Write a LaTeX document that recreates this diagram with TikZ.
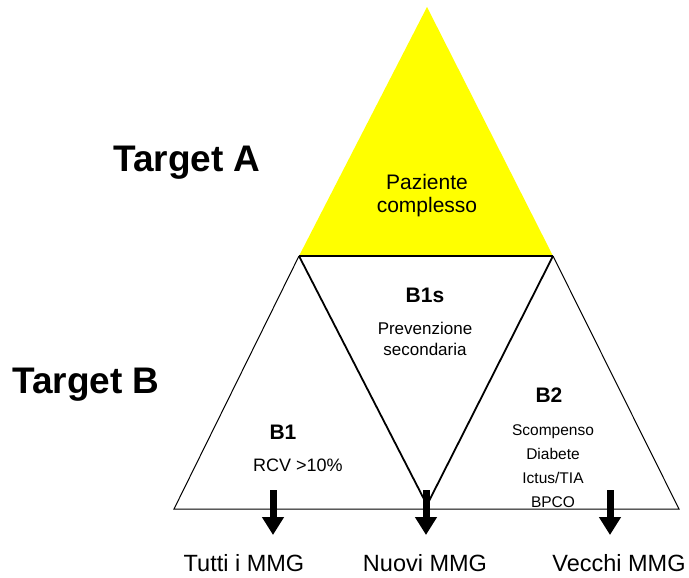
\documentclass[tikz,border=0pt]{standalone}
\usepackage{fontspec}
\setmainfont{Liberation Sans}
\usepackage{tikz}
\usetikzlibrary{arrows.meta, positioning, calc}
\definecolor{targetyellow}{RGB}{255,255,0}

\begin{document}
\begin{tikzpicture}[x=1pt, y=-1pt,
  thin side/.style={line width=1pt},
  thick side/.style={line width=1.8pt},
  down arrow/.style={line width=7pt, -{Triangle[width=21pt, length=18pt]}},
  big title/.style={font=\fontsize{37}{40}\selectfont\bfseries},
  small title/.style={font=\fontsize{21}{24}\selectfont\bfseries},
  body/.style={align=center, font=\fontsize{18}{22}\selectfont},
  list/.style={align=center, font=\fontsize{15.5}{24}\selectfont},
  bottom/.style={font=\fontsize{23.5}{26}\selectfont}]
\useasboundingbox (0,0) rectangle (689,578);
% corners
\coordinate (Top) at (427,7);
\coordinate (YL) at (299,256);
\coordinate (YR) at (553,256);
\coordinate (BL) at (174,509);
\coordinate (BR) at (679,509);
\coordinate (VTip) at (427,505);
% target A
\fill[targetyellow] (Top) -- (YL) -- (YR) -- cycle;
\draw[thick side] (YL) -- (YR);
% target B
\draw[thin side] (YL) -- (BL) -- (BR) -- (YR);
\draw[thick side] (YL) -- (VTip) -- (YR);
% texts
\node[big title] (TA) at (187,163) {Target A};
\node[big title] (TB) at (86,385) {Target B};
\node[body, font=\fontsize{21}{23}\selectfont] (PC) at (427,196) {Paziente\\complesso};
\node[small title] (B1s) at (425,295) {B1s};
\node[body, font=\fontsize{17}{21}\selectfont] (PS) at (425,339) {Prevenzione\\secondaria};
\node[small title] (B1) at (283,432) {B1};
\node[body] (RCV) at (298,465) {RCV >10\%};
\node[small title] (B2) at (549,395) {B2};
\node[list] (Lst) at (553,466) {Scompenso\\Diabete\\Ictus/TIA\\BPCO};
% arrows
\coordinate (A1) at (273,490);
\coordinate (A2) at (426,490);
\coordinate (A3) at (610,490);
\coordinate (E1) at (273,535);
\coordinate (E2) at (426,535);
\coordinate (E3) at (610,535);
\draw[down arrow] (A1) -- (E1);
\draw[down arrow] (A2) -- (E2);
\draw[down arrow] (A3) -- (E3);
\node[bottom] (MMG1) at (244,563) {Tutti i MMG};
\node[bottom] (MMG2) at (425,563) {Nuovi MMG};
\node[bottom] (MMG3) at (619,563) {Vecchi MMG};
\end{tikzpicture}
\end{document}
